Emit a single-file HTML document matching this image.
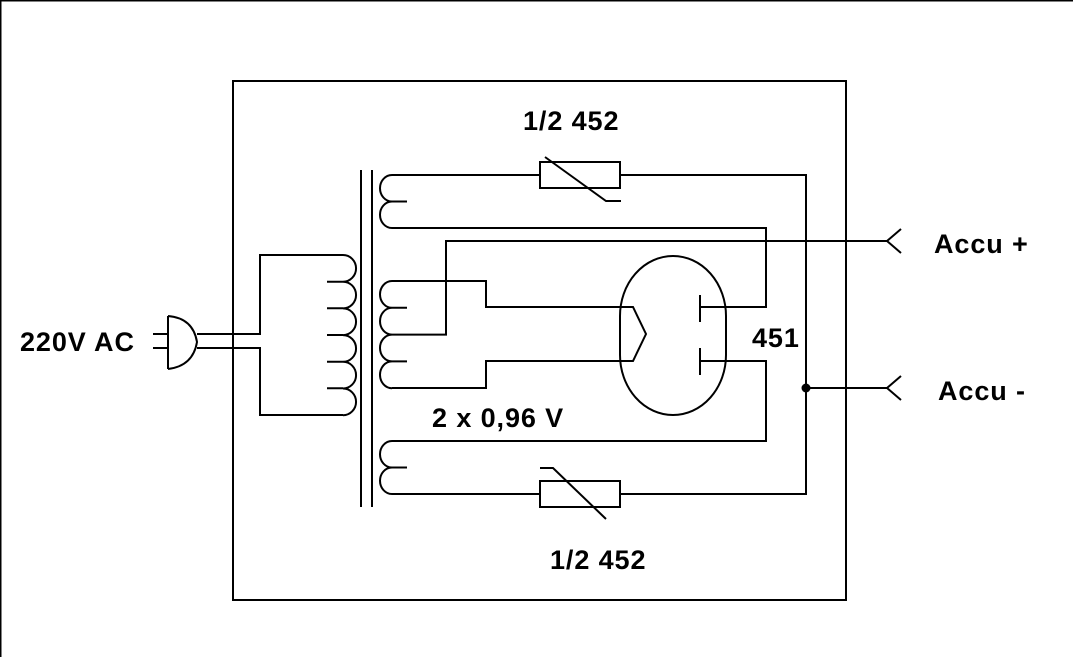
<!DOCTYPE html>
<html><head><style>
html,body{margin:0;padding:0;background:#fff}
svg{display:block}
text{font-family:"Liberation Sans",sans-serif;font-weight:bold;font-size:27px;letter-spacing:0.9px;fill:#000}
</style></head><body>
<svg width="1073" height="657" viewBox="0 0 1073 657" xmlns="http://www.w3.org/2000/svg">
<g fill="none" stroke="#000" stroke-width="2">
<line x1="0" y1="0.5" x2="1073" y2="0.5"/>
<line x1="0.5" y1="0" x2="0.5" y2="657"/>
<rect x="233" y="81" width="613" height="519"/>
<line x1="153" y1="334" x2="168" y2="334"/><line x1="153" y1="348" x2="168" y2="348"/>
<path d="M168 316 L168 369 M168 316 Q193 318 197 342 Q193 366 168 369"/>
<path d="M197 334 H260 V255 H343 M197 348 H260 V415 H343"/>
<path d="M343 255 a13 13.3 0 0 1 0 26.7 a13 13.3 0 0 1 0 26.7 a13 13.3 0 0 1 0 26.7 a13 13.3 0 0 1 0 26.7 a13 13.3 0 0 1 0 26.7 a13 13.3 0 0 1 0 26.7"/>
<path d="M327 281.7 H343 M327 308.3 H343 M327 335 H343 M327 361.7 H343 M327 388.3 H343"/>
<line x1="361" y1="170" x2="361" y2="507"/><line x1="372" y1="170" x2="372" y2="507"/>
<path d="M392 175 a12 13.25 0 0 0 0 26.5 a12 13.25 0 0 0 0 26.5"/>
<path d="M392 201.5 H407 M392 175 H540 M620 175 H806 V494 H620 M392 228 H766 V307 H700"/>
<rect x="540" y="162" width="80" height="26"/>
<path d="M545 157 L606 201 H621"/>
<path d="M392 281 a12 13.4 0 0 0 0 26.8 a12 13.4 0 0 0 0 26.8 a12 13.4 0 0 0 0 26.8 a12 13.4 0 0 0 0 26.8"/>
<path d="M392 307.8 H407 M392 361.4 H407 M392 281 H486 V307 H633 L646 334 L633 361 H486 V388 H392"/>
<path d="M392 334.6 H446 V241 H887 L901 229 M887 241 L901 253"/>
<rect x="620" y="256" width="106" height="159" rx="53" ry="60"/>
<path d="M700 295 V322 M700 348 V375"/>
<path d="M700 361 H766 V441 H392"/>
<path d="M392 441 a12 13.25 0 0 0 0 26.5 a12 13.25 0 0 0 0 26.5"/>
<path d="M392 467.5 H407 M392 494 H540"/>
<rect x="540" y="481" width="80" height="26"/>
<path d="M540 468 H553 L606 519"/>
<path d="M806 388 H887 L901 376 M887 388 L901 400"/>
</g>
<circle cx="806" cy="388" r="4.5" fill="#000"/>
<text x="523" y="130">1/2 452</text>
<text x="550" y="569">1/2 452</text>
<text x="432" y="427">2 x 0,96 V</text>
<text x="752" y="347">451</text>
<text x="20" y="351">220V AC</text>
<text x="934" y="253">Accu +</text>
<text x="938" y="400">Accu -</text>
</svg>
</body></html>
